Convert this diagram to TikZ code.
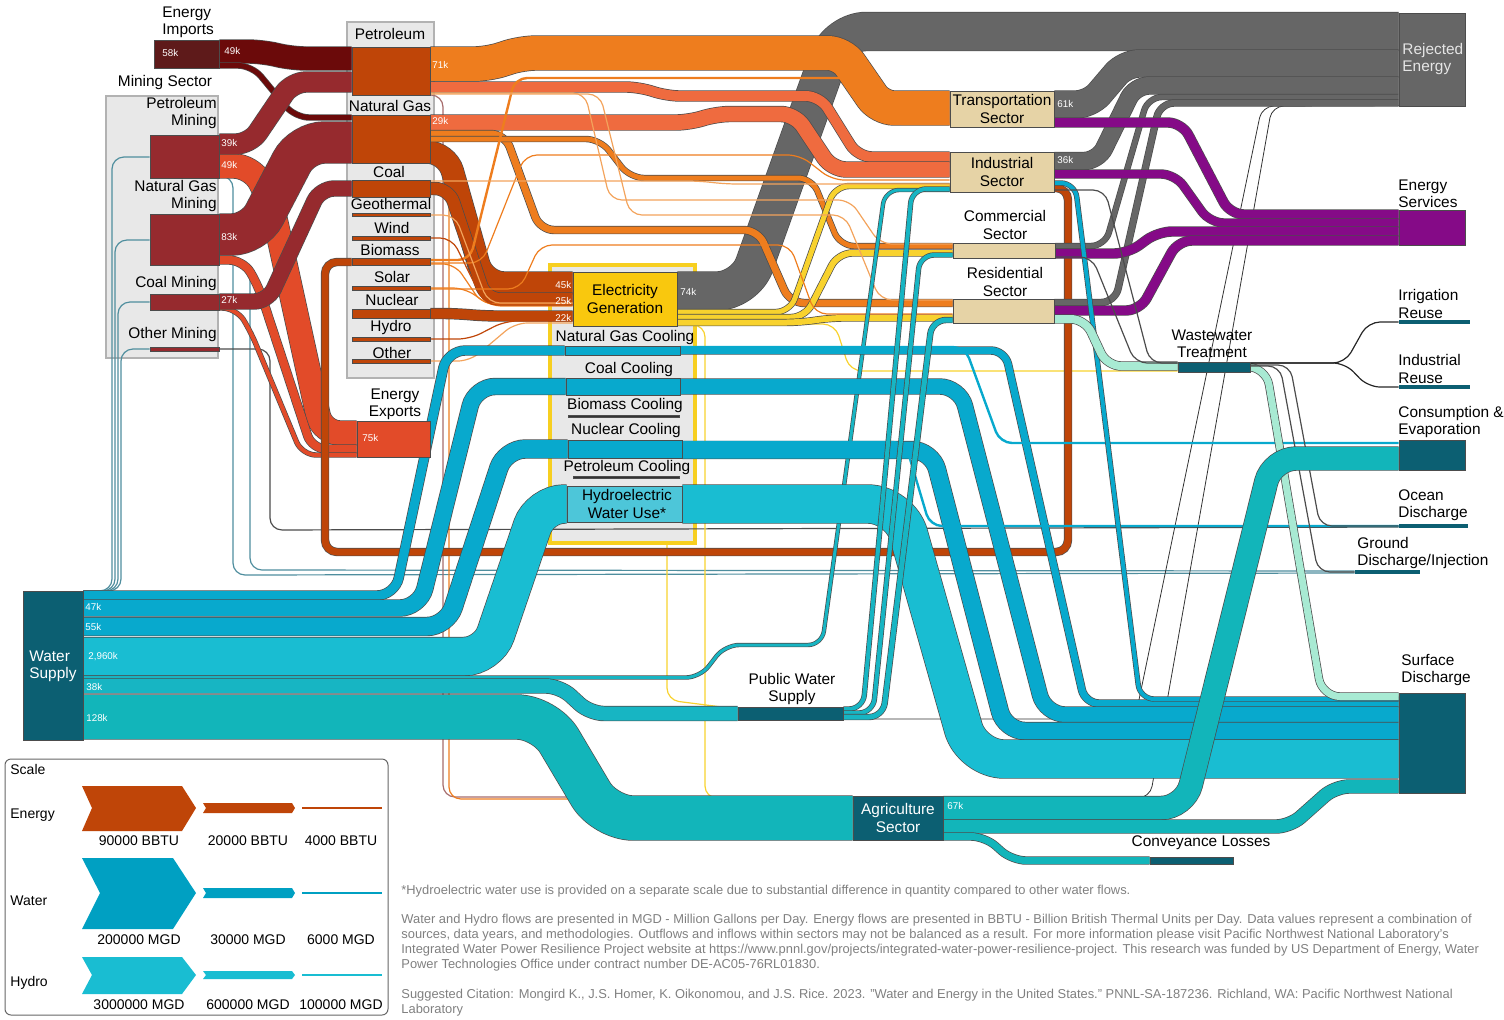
\documentclass[tikz,border=0pt]{standalone}
\usepackage{fontspec}
\setmainfont{Liberation Sans}
\usetikzlibrary{fit}
\pgfdeclarelayer{back}
\pgfdeclarelayer{flow}
\pgfsetlayers{back,flow,main}
\definecolor{impc}{HTML}{5E1A1A}
\definecolor{impf}{HTML}{6B0A0A}
\definecolor{minc}{HTML}{962A2E}
\definecolor{expc}{HTML}{E24B29}
\definecolor{srcc}{HTML}{BF4508}
\definecolor{trnc}{HTML}{EE7D1E}
\definecolor{salc}{HTML}{EF6B3F}
\definecolor{lorc}{HTML}{F3A35C}
\definecolor{rejc}{HTML}{666666}
\definecolor{secc}{HTML}{E6D3A6}
\definecolor{srvc}{HTML}{850A87}
\definecolor{elcc}{HTML}{F9C80E}
\definecolor{elcf}{HTML}{F7CF20}
\definecolor{ylwc}{HTML}{F8D22E}
\definecolor{coolc}{HTML}{08A9CD}
\definecolor{hydc}{HTML}{19BDD2}
\definecolor{hwuc}{HTML}{4DC6D9}
\definecolor{wtrc}{HTML}{17B5C3}
\definecolor{agrc}{HTML}{12B5BA}
\definecolor{dtlc}{HTML}{0C5F72}
\definecolor{mntc}{HTML}{A8EAD3}
\definecolor{grpc}{HTML}{E8E8E8}
\definecolor{tgc}{HTML}{4F8E9E}
\definecolor{legw}{HTML}{00A0C2}
\newcommand\labfont{\fontsize{7.7}{8.6}\selectfont}
\newcommand\valfont{\fontsize{4.9}{5.5}\selectfont}
\newcommand\legfont{\fontsize{7}{8}\selectfont}
\newcommand\notefont{\fontsize{6.45}{7.5}\selectfont}

\begin{document}
\begin{tikzpicture}[x=0.5pt,y=-0.5pt]
\tikzset{blk/.style={draw=black!70, line width=0.4pt, inner sep=0pt},
  grp/.style={fill=grpc, draw=black!30, line width=0.6pt, inner sep=0pt},
  band/.style 2 args={draw=#1, line width=#2*0.5pt, rounded corners=7pt, preaction={draw=black!70, line width=#2*0.5pt+0.7pt}},
  wire/.style={draw=#1, line width=0.6pt, rounded corners=6pt},
  lbl/.style={font=\labfont, align=center, inner sep=0pt},
  val/.style={font=\valfont, text=white, anchor=west, inner sep=0pt},
  leg/.style={font=\legfont, inner sep=0pt},
  note/.style={font=\notefont, text=black!50, align=left, inner sep=0pt}}
\useasboundingbox (0,0) rectangle (1504,1019);

\begin{pgfonlayer}{back}
\node[grp, fit={(106,96) (218,358)}] (minsec) {};
\node[grp, fit={(347,22) (434,378)}] (srcsec) {};
\node[grp, draw=elcf, line width=2pt, fit={(550,265) (695,543)}] (elcsec) {};
\end{pgfonlayer}

\node[blk, fill=impc, fit={(154,40) (219,68)}] (imp) {};
\node[blk, fill=minc, fit={(150,135) (219,178)}] (pmin) {};
\node[blk, fill=minc, fit={(150,214) (219,265)}] (gmin) {};
\node[blk, fill=minc, fit={(150,294) (219,310)}] (cmin) {};
\node[blk, fill=minc, fit={(150,347) (219,351)}] (omin) {};
\node[blk, fill=srcc, fit={(352,47) (430,95)}] (pet) {};
\node[blk, fill=srcc, fit={(352,115) (430,163)}] (gas) {};
\node[blk, fill=srcc, fit={(352,180) (430,197)}] (coal) {};
\node[blk, fill=srcc, fit={(352,213) (430,216)}] (geo) {};
\node[blk, fill=srcc, fit={(352,236) (430,240)}] (wind) {};
\node[blk, fill=srcc, fit={(352,258) (430,265)}] (bio) {};
\node[blk, fill=srcc, fit={(352,286) (430,290)}] (sol) {};
\node[blk, fill=srcc, fit={(352,309) (430,318)}] (nuc) {};
\node[blk, fill=srcc, fit={(352,337) (430,341)}] (hyd) {};
\node[blk, fill=srcc, fit={(352,359) (430,363)}] (oth) {};
\node[blk, fill=expc, fit={(357,421) (430,457)}] (exp) {};
\node[blk, fill=elcc, fit={(573,272) (677,326)}] (elec) {};
\node[blk, fill=coolc, fit={(565,346) (680,355)}] (ngcl) {};
\node[blk, fill=coolc, fit={(566,378) (680,395)}] (cocl) {};
\node[blk, fill=black!80, fit={(568,415) (679,417)}] (bicl) {};
\node[blk, fill=coolc, fit={(568,440) (682,458)}] (nucl) {};
\node[blk, fill=black!80, fit={(573,476) (679,478)}] (pecl) {};
\node[blk, fill=hwuc, fit={(567,486) (682,522)}] (hwu) {};
\node[blk, fill=secc, fit={(950,91) (1054,127)}] (trn) {};
\node[blk, fill=secc, fit={(950,152) (1054,192)}] (ind) {};
\node[blk, fill=secc, fit={(953,243) (1055,258)}] (com) {};
\node[blk, fill=secc, fit={(953,299) (1054,323)}] (res) {};
\node[blk, fill=rejc, fit={(1399,13) (1465,106)}] (rej) {};
\node[blk, fill=srvc, fit={(1399,210) (1465,245)}] (srv) {};
\node[blk, fill=dtlc, draw=none, fit={(1399,320) (1470,324)}] (irr) {};
\node[blk, fill=dtlc, draw=none, fit={(1399,385) (1470,389)}] (ire) {};
\node[blk, fill=dtlc, fit={(1399,440) (1465,470)}] (cev) {};
\node[blk, fill=dtlc, draw=none, fit={(1399,524) (1468,528)}] (ocn) {};
\node[blk, fill=dtlc, draw=none, fit={(1355,570) (1420,574)}] (gnd) {};
\node[blk, fill=dtlc, fit={(1399,693) (1465,793)}] (srf) {};
\node[blk, fill=dtlc, fit={(1178,362) (1250,372)}] (wwt) {};
\node[blk, fill=dtlc, fit={(738,707) (843,720)}] (pws) {};
\node[blk, fill=dtlc, fit={(853,796) (943,840)}] (agr) {};
\node[blk, fill=dtlc, fit={(1150,857) (1233,864)}] (cnv) {};
\node[blk, fill=dtlc, fit={(23,591) (83,740)}] (wsp) {};

\begin{pgfonlayer}{flow}
\draw[wire=tgc] (wsp.north east) -- (112,591) -- (112,157) -- (pmin.west |- 0,157);
\draw[wire=tgc] (wsp.north east) -- (115,591) -- (115,240) -- (gmin.west |- 0,240);
\draw[wire=tgc] (wsp.north east) -- (118,591) -- (118,302) -- (cmin.west |- 0,302);
\draw[wire=tgc] (wsp.north east) -- (121,591) -- (121,349) -- (omin.west |- 0,349);
\draw[wire=tgc] (pmin.east |- 0,176) -- (233,176) -- (233,575) -- (gnd.west |- 0,573);
\draw[wire=tgc] (gmin.east |- 0,263) -- (250,263) -- (250,570) -- (gnd.west |- 0,571);
\draw[wire=black!70] (omin.east |- 0,349) -- (270,349) -- (270,530) -- (ocn.west |- 0,527);
\draw[wire=impf!60] (pet.east |- 0,95) -- (443,95) -- (443,797) -- (agr.west |- 0,797);
\draw[wire=trnc] (gas.east |- 0,162) -- (449,162) -- (449,799) -- (agr.west |- 0,799);
\draw[wire=ylwc] (elec.east |- 0,325) -- (705,325) -- (705,798) -- (agr.west |- 0,798);
\draw[wire=ylwc] (elcsec.south -| 667,0) -- (667,700) -- (pws.west |- 0,709);
\draw[wire=ylwc] (elec.east |- 0,324) -- (835,324) -- (850,371) -- (wwt.west |- 0,371);
\draw[wire=black!80, line width=0.4pt] (agr.east |- 0,798) -- (1150,798) -- (1272,106) -- (rej.west |- 0,105.5);
\draw[wire=black!80, line width=0.4pt] (pws.east |- 0,719) -- (1135,719) -- (1262,106) -- (rej.west |- 0,105.5);

\draw[band={expc}{24}, rounded corners=9pt] (pmin.east |- 0,166) -- (252,166) -- (272,205) -- (322,433) -- (exp.west |- 0,433);
\draw[band={expc}{8}] (gmin.east |- 0,260) -- (243,260) -- (258,285) -- (312,449) -- (exp.west |- 0,449);
\draw[band={expc}{4}] (cmin.east |- 0,308) -- (236,308) -- (250,330) -- (302,455) -- (exp.west |- 0,455);
\draw[band={impf}{23}] (imp.east |- 0,51.5) -- (262,51.5) -- (292,58.5) -- (pet.west |- 0,58.5);
\draw[band={impf}{5}] (imp.east |- 0,65.5) -- (252,65.5) -- (295,117.5) -- (gas.west |- 0,117.5);
\draw[band={minc}{20}] (pmin.east |- 0,144) -- (250,144) -- (292,82) -- (pet.west |- 0,82);
\draw[band={minc}{41}, rounded corners=11pt] (gmin.east |- 0,234.5) -- (254,234.5) -- (302,142.5) -- (gas.west |- 0,142.5);
\draw[band={minc}{15}] (cmin.east |- 0,301.5) -- (268,301.5) -- (320,188.5) -- (coal.west |- 0,188.5);
\draw[band={srcc}{7}, rounded corners=6pt] (bio.west |- 0,262) -- (325,262) -- (325,552) -- (1068,552) -- (1068,188) -- (ind.east |- 0,188);
\draw[band={srcc}{22}, rounded corners=10pt] (gas.east |- 0,152) -- (447,152) -- (484,283) -- (elec.west |- 0,283);
\draw[band={srcc}{12}] (coal.east |- 0,188.5) -- (449,188.5) -- (486,299) -- (elec.west |- 0,299);
\draw[band={srcc}{10}] (nuc.east |- 0,313.5) -- (456,313.5) -- (484,316) -- (elec.west |- 0,316);
\draw[band={rejc}{38}, rounded corners=14pt] (elec.east |- 0,291) -- (745,291) -- (838,31.5) -- (rej.west |- 0,31.5);
\draw[band={trnc}{34}] (pet.east |- 0,64) -- (488,64) -- (522,53) -- (842,53) -- (880,108) -- (trn.west |- 0,108);
\draw[band={salc}{10}] (pet.east |- 0,87) -- (640,87) -- (666,96) -- (820,96) -- (858,157) -- (ind.west |- 0,157);
\draw[band={salc}{15}] (gas.east |- 0,122.5) -- (690,122.5) -- (716,114) -- (795,114) -- (832,169.5) -- (ind.west |- 0,169.5);
\draw[band={trnc}{7}] (gas.east |- 0,134) -- (505,134) -- (540,230) -- (758,230) -- (790,303) -- (res.west |- 0,303);
\draw[band={trnc}{5}] (gas.east |- 0,139) -- (600,139) -- (630,178) -- (812,178) -- (840,246) -- (com.west |- 0,246);
\draw[band={ylwc}{5}] (elec.east |- 0,312) -- (790,312) -- (835,186) -- (ind.west |- 0,186);
\draw[band={ylwc}{6}] (elec.east |- 0,317.5) -- (805,317.5) -- (838,253) -- (com.west |- 0,253);
\draw[band={ylwc}{6}] (elec.east |- 0,322.5) -- (800,322.5) -- (830,318) -- (res.west |- 0,318);
\draw[band={rejc}{27}] (trn.east |- 0,104.5) -- (1090,104.5) -- (1125,63.5) -- (rej.west |- 0,63.5);
\draw[band={rejc}{17}] (ind.east |- 0,161) -- (1098,161) -- (1135,85.5) -- (rej.west |- 0,85.5);
\draw[band={rejc}{5}] (com.east |- 0,246) -- (1105,246) -- (1148,97) -- (rej.west |- 0,97);
\draw[band={rejc}{6}] (res.east |- 0,302.5) -- (1115,302.5) -- (1160,103) -- (rej.west |- 0,103);
\draw[band={srvc}{9}] (trn.east |- 0,122.5) -- (1182,122.5) -- (1230,214.5) -- (srv.west |- 0,214.5);
\draw[band={srvc}{8}] (ind.east |- 0,174) -- (1175,174) -- (1210,223) -- (srv.west |- 0,223);
\draw[band={srvc}{9}] (com.east |- 0,253.5) -- (1128,253.5) -- (1158,231.5) -- (srv.west |- 0,231.5);
\draw[band={srvc}{9}] (res.east |- 0,310.5) -- (1140,310.5) -- (1178,240.5) -- (srv.west |- 0,240.5);

\draw[wire=trnc, line width=1.2pt] (bio.east |- 0,260) -- (470,260) -- (515,78) -- (862,78) -- (892,124) -- (trn.west |- 0,124);
\draw[wire=trnc] (bio.east |- 0,263) -- (482,263) -- (525,155) -- (800,155) -- (832,180) -- (ind.west |- 0,180);
\draw[wire=trnc] (bio.east |- 0,264) -- (455,264) -- (482,304) -- (elec.west |- 0,304);
\draw[wire=trnc] (sol.east |- 0,288) -- (465,288) -- (490,306) -- (elec.west |- 0,306);
\draw[wire=srcc] (hyd.east |- 0,339) -- (470,339) -- (505,321) -- (elec.west |- 0,321);
\draw[wire=lorc] (oth.east |- 0,361) -- (470,361) -- (515,323) -- (elec.west |- 0,323);
\draw[wire=srcc] (wind.east |- 0,238) -- (452,238) -- (485,305) -- (elec.west |- 0,305);
\draw[wire=lorc] (geo.east |- 0,215) -- (455,215) -- (488,303) -- (elec.west |- 0,303);
\draw[wire=lorc] (pet.east |- 0,93) -- (585,93) -- (610,200) -- (850,200) -- (880,244) -- (com.west |- 0,244);
\draw[wire=lorc] (pet.east |- 0,94) -- (600,94) -- (630,215) -- (845,215) -- (880,300) -- (res.west |- 0,300);
\draw[wire=trnc] (sol.east |- 0,289) -- (520,289) -- (540,245) -- (790,245) -- (815,314) -- (res.west |- 0,314);
\draw[wire=lorc] (coal.east |- 0,181) -- (700,181) -- (725,184) -- (ind.west |- 0,184);

\draw[band={coolc}{9}, rounded corners=9pt] (wsp.east |- 0,595.5) -- (395,595.5) -- (447,350.5) -- (ngcl.west |- 0,350.5);
\draw[band={coolc}{16}, rounded corners=10pt] (wsp.east |- 0,608) -- (420,608) -- (475,386.5) -- (cocl.west |- 0,386.5);
\draw[band={coolc}{18}, rounded corners=10pt] (wsp.east |- 0,626.5) -- (447,626.5) -- (505,449) -- (nucl.west |- 0,449);
\draw[band={hydc}{38}, rounded corners=12pt] (wsp.east |- 0,656.5) -- (488,656.5) -- (540,504) -- (hwu.west |- 0,504);
\draw[band={wtrc}{3}] (wsp.east |- 0,677.5) -- (700,677.5) -- (725,645) -- (822,645) -- (885,190) -- (ind.west |- 0,190);
\draw[band={wtrc}{14}] (wsp.east |- 0,686) -- (560,686) -- (590,713.5) -- (pws.west |- 0,713.5);
\draw[band={agrc}{44}, rounded corners=14pt] (wsp.east |- 0,717) -- (545,717) -- (605,818) -- (agr.west |- 0,818);
\draw[band={coolc}{7}] (ngcl.east |- 0,350.5) -- (1005,350.5) -- (1085,703.5) -- (srf.west |- 0,703.5);
\draw[band={coolc}{15}, rounded corners=10pt] (cocl.east |- 0,386.5) -- (960,386.5) -- (1045,714.5) -- (srf.west |- 0,714.5);
\draw[band={coolc}{17}, rounded corners=10pt] (nucl.east |- 0,450) -- (932,450) -- (1005,731) -- (srf.west |- 0,731);
\draw[band={hydc}{38}, rounded corners=16pt] (hwu.east |- 0,504) -- (900,504) -- (972,759) -- (srf.west |- 0,759);
\draw[wire=coolc, line width=1.2pt] (nucl.east |- 0,442) -- (905,442) -- (930,526) -- (ocn.west |- 0,526);
\draw[wire=coolc, line width=1.2pt] (ngcl.east |- 0,347) -- (965,347) -- (1000,443) -- (cev.west |- 0,443);
\draw[band={wtrc}{4}] (pws.east |- 0,709) -- (863,709) -- (912,189) -- (ind.west |- 0,189);
\draw[band={wtrc}{4}] (pws.east |- 0,713) -- (873,713) -- (920,255) -- (com.west |- 0,255);
\draw[band={wtrc}{5}] (pws.east |- 0,717) -- (883,717) -- (932,320) -- (res.west |- 0,320);
\draw[band={coolc}{4}] (ind.east |- 0,183) -- (1075,183) -- (1140,699) -- (srf.west |- 0,699);
\draw[band={mntc}{8}] (res.east |- 0,319) -- (1085,319) -- (1107,366) -- (wwt.west |- 0,366);
\draw[wire=black!70] (com.east |- 0,257) -- (1092,257) -- (1135,363) -- (wwt.west |- 0,363);
\draw[wire=black!70] (ind.east |- 0,190) -- (1105,190) -- (1150,363) -- (wwt.west |- 0,363);
\draw[band={mntc}{7}, rounded corners=9pt] (wwt.east |- 0,367) -- (1266,367) -- (1322,696.5) -- (srf.west |- 0,696.5);
\draw[wire=black!85] (wwt.east |- 0,363) -- (1345,363) -- (1368,322) -- (irr.west |- 0,322);
\draw[wire=black!85] (wwt.east |- 0,363) -- (1345,363) -- (1368,387) -- (ire.west |- 0,387);
\draw[wire=black!70] (wwt.east |- 0,365) -- (1290,365) -- (1320,526) -- (ocn.west |- 0,526);
\draw[wire=black!70] (wwt.east |- 0,366) -- (1280,366) -- (1318,572) -- (gnd.west |- 0,572);
\draw[band={agrc}{23}, rounded corners=12pt] (agr.east |- 0,808) -- (1185,808) -- (1272,458.5) -- (cev.west |- 0,458.5);
\draw[band={agrc}{13}] (agr.east |- 0,826.5) -- (1290,826.5) -- (1335,786.5) -- (srf.west |- 0,786.5);
\draw[band={agrc}{7}] (agr.east |- 0,836.5) -- (985,836.5) -- (1012,860.5) -- (cnv.west |- 0,860.5);
\end{pgfonlayer}

\node[lbl, anchor=west, align=left] (limp) at (162,22) {Energy\\Imports};
\node[lbl] (lmin) at (165,83) {Mining Sector};
\node[lbl, anchor=east, align=right] (lpmin) at (217,113) {Petroleum\\Mining};
\node[lbl, anchor=east, align=right] (lgmin) at (217,196) {Natural Gas\\Mining};
\node[lbl, anchor=east] (lcmin) at (217,284) {Coal Mining};
\node[lbl, anchor=east] (lomin) at (217,335) {Other Mining};
\node[lbl] (lpet) at (390,34) {Petroleum};
\node[lbl] (lgas) at (390,106) {Natural Gas};
\node[lbl] (lcoal) at (389,172) {Coal};
\node[lbl] (lgeo) at (391,204) {Geothermal};
\node[lbl] (lwind) at (392,228) {Wind};
\node[lbl] (lbio) at (390,250) {Biomass};
\node[lbl] (lsol) at (392,277) {Solar};
\node[lbl] (lnuc) at (392,300) {Nuclear};
\node[lbl] (lhyd) at (391,328) {Hydro};
\node[lbl] (loth) at (392,353) {Other};
\node[lbl] (lexp) at (395,404) {Energy\\Exports};
\node[lbl] (lelec) at (elec) {Electricity\\Generation};
\node[lbl] (lngcl) at (625,338) {Natural Gas Cooling};
\node[lbl] (lcocl) at (629,370) {Coal Cooling};
\node[lbl] (lbicl) at (625,406) {Biomass Cooling};
\node[lbl] (lnucl) at (626,431) {Nuclear Cooling};
\node[lbl] (lpecl) at (627,468) {Petroleum Cooling};
\node[lbl] (lhwu) at (627,504) {Hydroelectric\\Water Use*};
\node[lbl] (ltrn) at (trn) {Transportation\\Sector};
\node[lbl] (lind) at (ind) {Industrial\\Sector};
\node[lbl] (lcom) at (1005,225) {Commercial\\Sector};
\node[lbl] (lres) at (1005,282) {Residential\\Sector};
\node[lbl, text=white!90!black, anchor=west, align=left] (lrej) at (1402,59) {Rejected\\Energy};
\node[lbl, anchor=west, align=left] (lsrv) at (1398,194) {Energy\\Services};
\node[lbl, anchor=west, align=left] (lirr) at (1398,304) {Irrigation\\Reuse};
\node[lbl, anchor=west, align=left] (lire) at (1398,369) {Industrial\\Reuse};
\node[lbl, anchor=west, align=left] (lcev) at (1398,422) {Consumption \&\\Evaporation};
\node[lbl, anchor=west, align=left] (locn) at (1398,505) {Ocean\\Discharge};
\node[lbl, anchor=west, align=left] (lgnd) at (1357,553) {Ground\\Discharge/Injection};
\node[lbl, anchor=west, align=left] (lsrf) at (1401,670) {Surface\\Discharge};
\node[lbl] (lwwt) at (1212,344) {Wastewater\\Treatment};
\node[lbl] (lpws) at (792,689) {Public Water\\Supply};
\node[lbl, text=white] (lagr) at (agr) {Agriculture\\Sector};
\node[lbl] (lcnv) at (1201,843) {Conveyance Losses};
\node[lbl, text=white, anchor=west, align=left] (lwsp) at (29,666) {Water\\Supply};

\node[val] (v1) at (162,53) {58k};
\node[val] (v2) at (224,51) {49k};
\node[val] (v3) at (221,143) {39k};
\node[val] (v4) at (221,165) {49k};
\node[val] (v5) at (221,237) {83k};
\node[val] (v6) at (221,300) {27k};
\node[val] (v7) at (432,65) {71k};
\node[val] (v8) at (432,121) {29k};
\node[val] (v9) at (555,285) {45k};
\node[val] (v10) at (555,301) {25k};
\node[val] (v11) at (555,318) {22k};
\node[val] (v12) at (680,292) {74k};
\node[val] (v13) at (1057,104) {61k};
\node[val] (v14) at (1057,160) {36k};
\node[val] (v15) at (362,438) {75k};
\node[val] (v16) at (85,607) {47k};
\node[val] (v17) at (85,627) {55k};
\node[val] (v18) at (88,657) {2,960k};
\node[val] (v19) at (86,687) {38k};
\node[val] (v20) at (86,718) {128k};
\node[val] (v21) at (947,806) {67k};

\draw[rounded corners=3pt, draw=black!60, fill=white, line width=0.5pt] (5,759) rectangle (388,1015);
\node[leg, anchor=west] (lscl) at (10,769) {Scale};
\node[leg, anchor=west] (lsce) at (10,815) {Energy};
\node[leg, anchor=west] (lscw) at (10,901) {Water};
\node[leg, anchor=west] (lsch) at (10,983) {Hydro};
\fill[srcc] (82,786) -- (182,786) -- (196,808) -- (182,831) -- (82,831) -- (92,808) -- cycle;
\fill[srcc] (203,803) -- (292,803) -- (295,808) -- (292,813) -- (203,813) -- (206,808) -- cycle;
\draw[srcc, line width=1pt] (302,808) -- (382,808);
\fill[legw] (82,858) -- (173,858) -- (196,893) -- (173,929) -- (82,929) -- (100,893) -- cycle;
\fill[legw] (203,888) -- (292,888) -- (295,893) -- (292,898) -- (203,898) -- (206,893) -- cycle;
\draw[legw, line width=1pt] (302,893) -- (382,893);
\fill[hydc] (82,957) -- (182,957) -- (196,975) -- (182,994) -- (82,994) -- (92,975) -- cycle;
\fill[hydc] (203,971) -- (292,971) -- (295,975) -- (292,979) -- (203,979) -- (206,975) -- cycle;
\draw[hydc, line width=0.6pt] (302,975) -- (382,975);
\node[leg] (s1) at (139,841) {90000 BBTU};
\node[leg] (s2) at (248,841) {20000 BBTU};
\node[leg] (s3) at (341,841) {4000 BBTU};
\node[leg] (s4) at (139,940) {200000 MGD};
\node[leg] (s5) at (248,940) {30000 MGD};
\node[leg] (s6) at (341,940) {6000 MGD};
\node[leg] (s7) at (139,1005) {3000000 MGD};
\node[leg] (s8) at (248,1005) {600000 MGD};
\node[leg] (s9) at (341,1005) {100000 MGD};

\node[note, anchor=west] (fn1) at (401,891) {*Hydroelectric water use is provided on a separate scale due to substantial difference in quantity compared to other water flows.};
\node[note, anchor=north west] (fn2) at (401,914) {Water and Hydro flows are presented in MGD - Million Gallons per Day. Energy flows are presented in BBTU - Billion British Thermal Units per Day. Data values represent a combination of\\sources, data years, and methodologies. Outflows and inflows within sectors may not be balanced as a result. For more information please visit Pacific Northwest National Laboratory's\\Integrated Water Power Resilience Project website at https://www.pnnl.gov/projects/integrated-water-power-resilience-project. This research was funded by US Department of Energy, Water\\Power Technologies Office under contract number DE-AC05-76RL01830.};
\node[note, anchor=north west] (fn3) at (401,989) {Suggested Citation: Mongird K., J.S. Homer, K. Oikonomou, and J.S. Rice. 2023. "Water and Energy in the United States." PNNL-SA-187236. Richland, WA: Pacific Northwest National\\Laboratory};
\end{tikzpicture}
\end{document}
